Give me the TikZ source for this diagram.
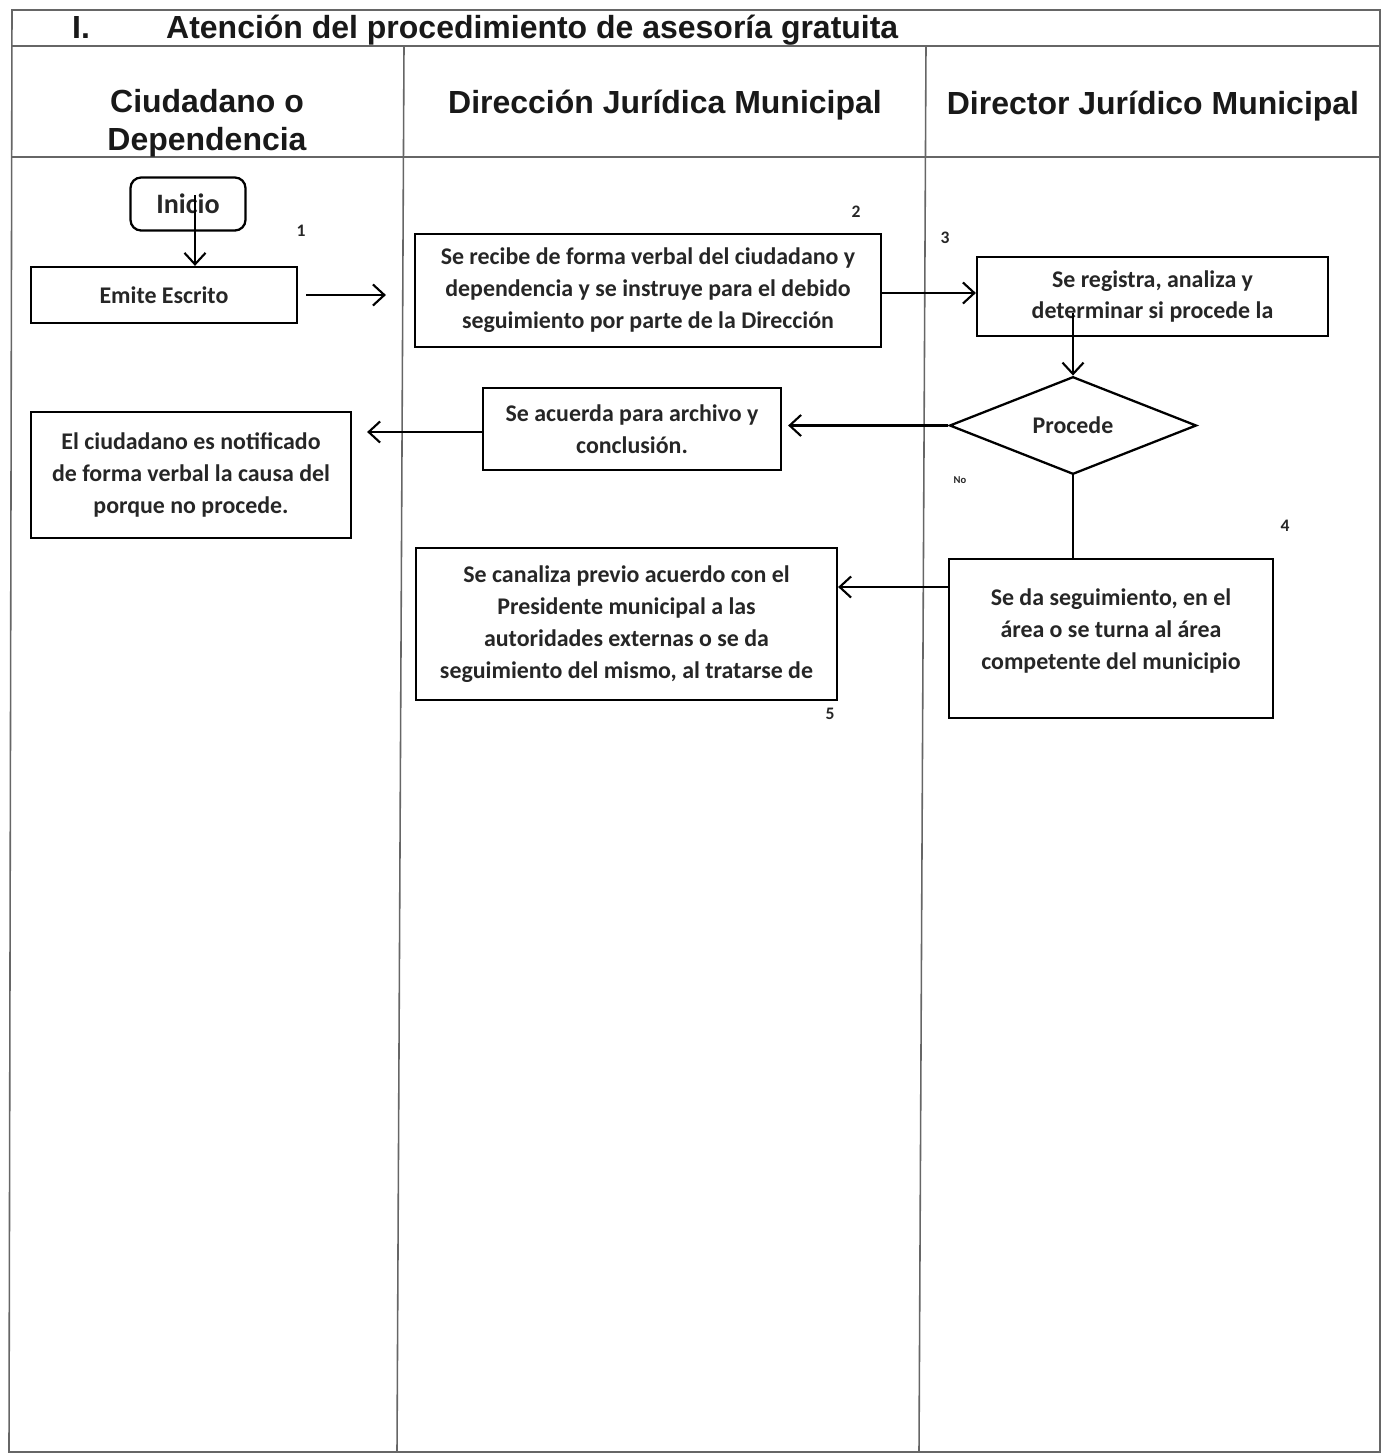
\documentclass[tikz,border=0pt]{standalone}
\usepackage{fontspec}
\setmainfont{Carlito}
\newfontfamily\headfont{Liberation Sans}
\usetikzlibrary{shapes.geometric,arrows.meta}

\tikzset{
  caja/.style={draw, line width=1.3pt, align=center, inner sep=0pt, text=black!85,
    font=\bfseries\fontsize{13.6}{18.2}\selectfont},
  encabezado/.style={font=\headfont\bfseries\fontsize{18.2}{21.5}\selectfont, align=center, text=black!90},
  flecha/.style={-{Straight Barb[length=6.5pt,width=12pt,line width=1.2pt]}, line width=1.3pt},
  linea/.style={line width=1.3pt},
  tabla/.style={black!60, line width=0.9pt},
  num/.style={font=\bfseries\fontsize{10}{12}\selectfont, text=black!85},
}

\begin{document}
\begin{tikzpicture}[x=0.02cm,y=-0.02cm]
\useasboundingbox (0,0) rectangle (1382,1454);

\draw[tabla] (12,10) -- (1380,10) -- (1380,1452) -- (9,1452) -- cycle;
\draw[tabla] (12,46) -- (1380,46);
\draw[tabla] (12,157) -- (1380,157);
\draw[tabla] (404,46) -- (397,1452);
\draw[tabla] (926,46) -- (919,1452);

\node[encabezado, anchor=base west] (romano) at (66,38) {I.};
\node[encabezado, anchor=base west] (titulo) at (160,38) {Atención del procedimiento de asesoría gratuita};
\node[encabezado] (carril1) at (207,123) {Ciudadano o\\Dependencia};
\node[encabezado] (carril2) at (665,105) {Dirección Jurídica Municipal};
\node[encabezado] (carril3) at (1153,106) {Director Jurídico Municipal};

\node[caja, rounded corners=6pt, minimum width=2.3cm, minimum height=1.06cm,
  font=\bfseries\fontsize{16}{18}\selectfont] (inicio) at (188,204) {Inicio};
\node[caja, minimum width=5.32cm, minimum height=1.12cm] (emite) at (164,295) {Emite Escrito};
\node[caja, minimum width=9.32cm, minimum height=2.26cm] (recibe) at (648,290.5)
  {Se recibe de forma verbal del ciudadano y\\dependencia y se instruye para el debido\\seguimiento por parte de la Dirección};
\node[caja, minimum width=7.02cm, minimum height=1.58cm] (registra) at (1152.5,296.5)
  {Se registra, analiza y\\determinar si procede la};
\node[caja, diamond, minimum width=4.94cm, minimum height=1.94cm] (procede) at (1073,425.5) {Procede};
\node[caja, minimum width=5.96cm, minimum height=1.64cm] (acuerda) at (632,429)
  {Se acuerda para archivo y\\conclusión.};
\node[caja, minimum width=6.4cm, minimum height=2.52cm] (notifica) at (191,475)
  {El ciudadano es notificado\\de forma verbal la causa del\\porque no procede.};
\node[caja, minimum width=6.48cm, minimum height=3.18cm] (sigue) at (1111,638.5)
  {Se da seguimiento, en el\\área o se turna al área\\competente del municipio\\[-7pt]\mbox{}};
\node[caja, minimum width=8.42cm, minimum height=3.04cm] (canaliza) at (626.5,624)
  {Se canaliza previo acuerdo con el\\Presidente municipal a las\\autoridades externas o se da\\seguimiento del mismo, al tratarse de};

\node[num] (n1) at (301,231) {1};
\node[num] (n2) at (856,212) {2};
\node[num] (n3) at (945,238) {3};
\node[num] (n4) at (1285,526) {4};
\node[num] (n5) at (830,714) {5};
\node[font=\bfseries\fontsize{6}{7}\selectfont, text=black!85] (no) at (960,480) {No};

\draw[flecha] ([xshift=0.14cm,yshift=0.18cm]inicio.center) -- ([xshift=0.14cm]inicio.center |- emite.north);
\draw[flecha, shorten <=0.16cm, shorten >=0.56cm] (emite.east) -- (emite.east -| recibe.west);
\draw[flecha] ([yshift=-0.05cm]recibe.east) -- ([yshift=-0.05cm]recibe.east -| registra.west);
\draw[flecha] ([yshift=0.48cm]procede.north |- registra.south) -- (procede.north);
\draw[flecha, shorten >=0.12cm] (procede.west) -- (procede.west -| acuerda.east);
\draw[flecha, shorten >=0.3cm] ([yshift=-0.06cm]acuerda.west) -- ([yshift=-0.06cm]acuerda.west -| notifica.east);
\draw[linea] (procede.south) -- (procede.south |- sigue.north);
\draw[flecha] ([yshift=1.03cm]sigue.west) -- ([yshift=1.03cm]sigue.west -| canaliza.east);

\end{tikzpicture}
\end{document}
